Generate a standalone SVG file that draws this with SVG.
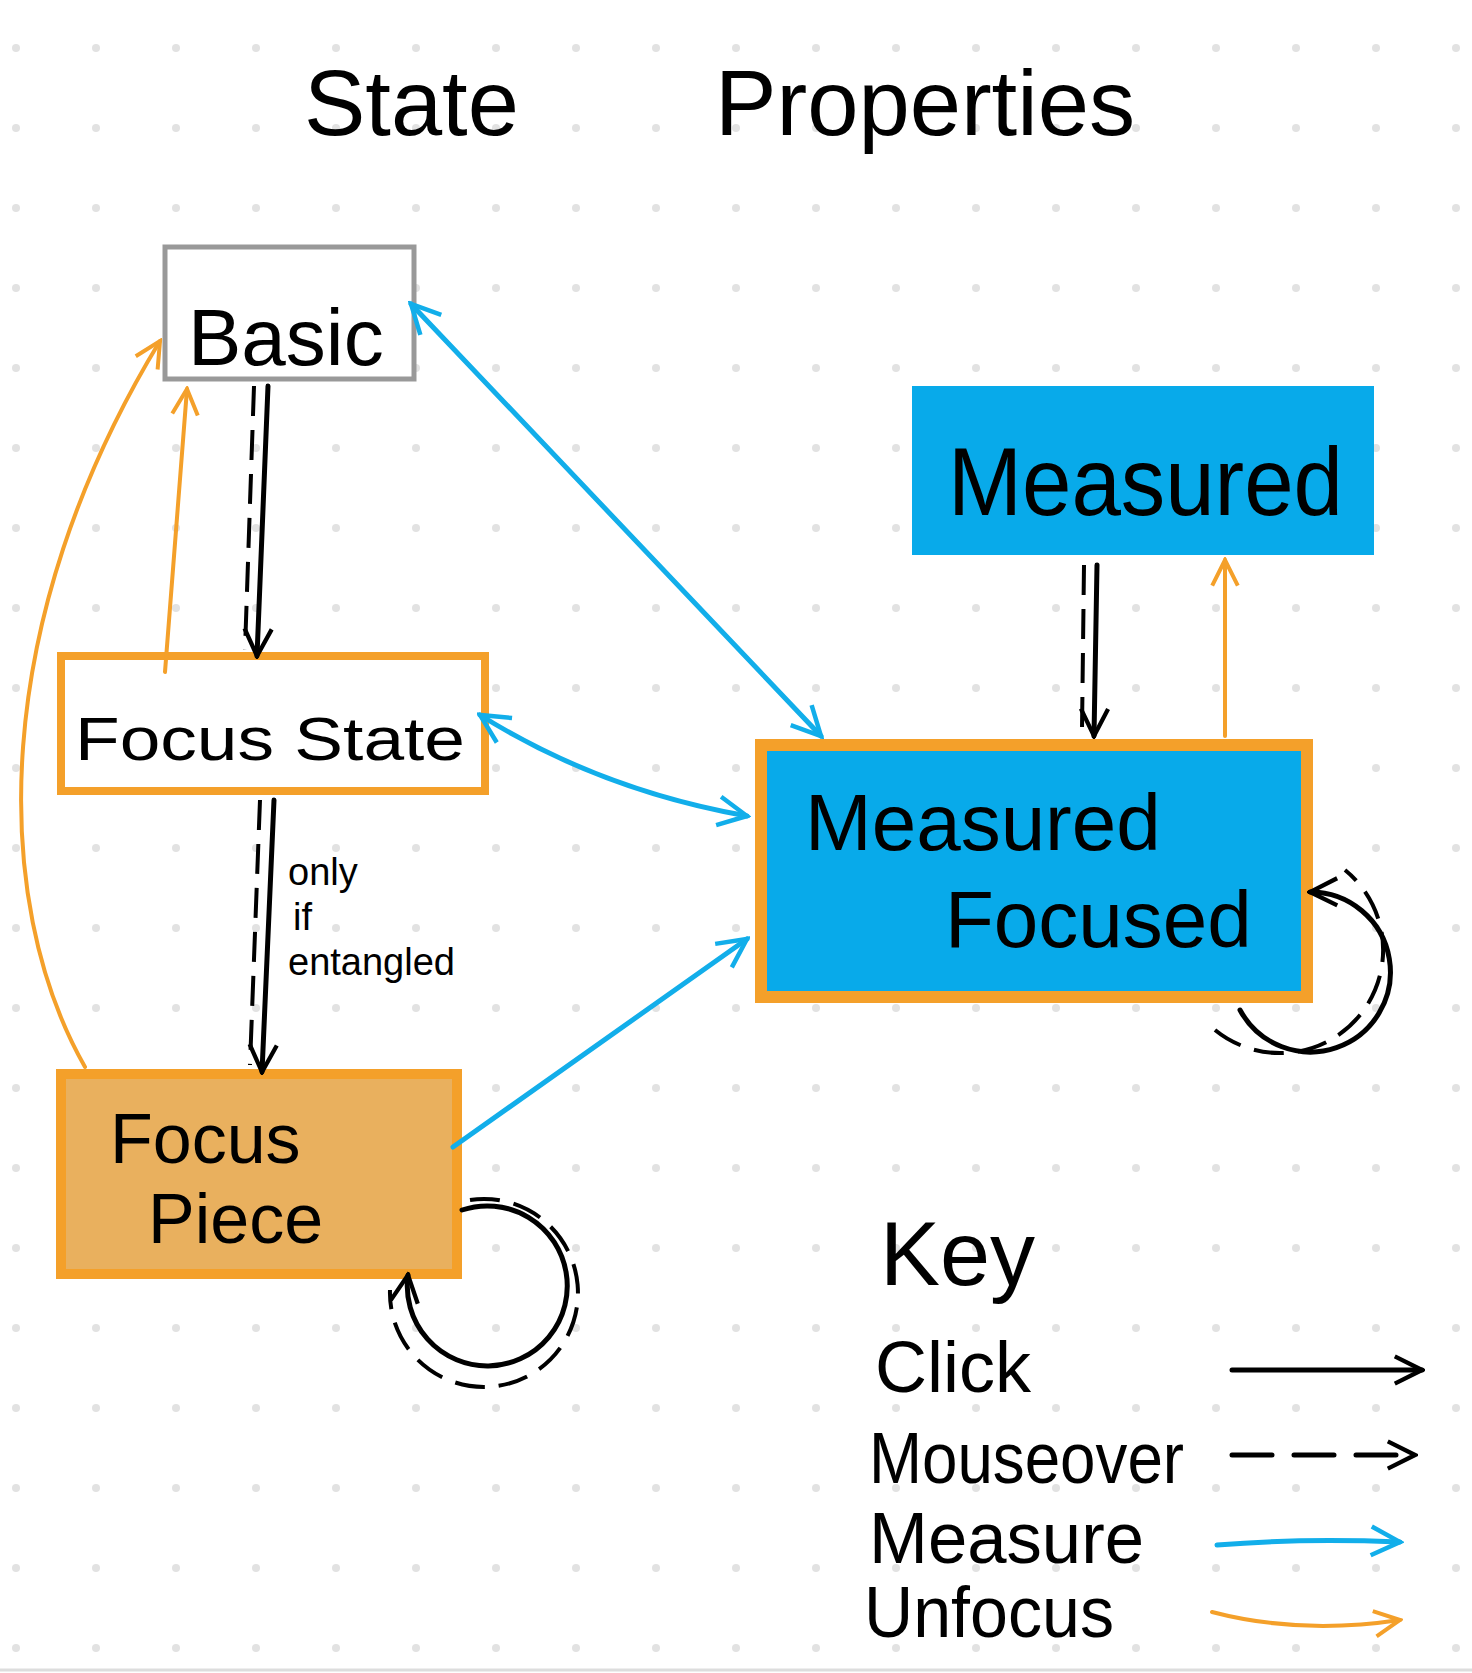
<svg xmlns="http://www.w3.org/2000/svg" width="1472" height="1673" viewBox="0 0 1472 1673">
<defs>
<pattern id="dots" x="0" y="0" width="80" height="80" patternUnits="userSpaceOnUse"><circle cx="16" cy="48" r="4" fill="#e2e2e2"/></pattern>
<marker id="ak" viewBox="0 0 20 20" refX="18" refY="10" markerWidth="34" markerHeight="34" markerUnits="userSpaceOnUse" orient="auto-start-reverse"><path d="M2,2 L18,10 L2,18" fill="none" stroke="#000" stroke-width="2.5"/></marker>
<marker id="ab" viewBox="0 0 20 20" refX="18" refY="10" markerWidth="36" markerHeight="36" markerUnits="userSpaceOnUse" orient="auto-start-reverse"><path d="M2,2 L18,10 L2,18" fill="none" stroke="#12aeea" stroke-width="2.5"/></marker>
<marker id="ao" viewBox="0 0 20 20" refX="18" refY="10" markerWidth="32" markerHeight="32" markerUnits="userSpaceOnUse" orient="auto-start-reverse"><path d="M2,2 L18,10 L2,18" fill="none" stroke="#f4a02a" stroke-width="2.5"/></marker>
</defs>
<style>
text{font-family:"Liberation Sans",Arial,sans-serif;fill:#000}
.k{fill:none;stroke:#000;stroke-width:5;stroke-linecap:round}
.kd{fill:none;stroke:#000;stroke-width:4;stroke-dasharray:30 14}
.b{fill:none;stroke:#12aeea;stroke-width:5;stroke-linecap:round}
.o{fill:none;stroke:#f4a02a;stroke-width:4;stroke-linecap:round}
</style>
<rect width="1472" height="1673" fill="#fff"/>
<rect width="1472" height="1668" fill="url(#dots)"/>
<line x1="0" y1="1670" x2="1472" y2="1670" stroke="#ddd" stroke-width="3"/>
<text x="304" y="135" font-size="92">State</text>
<text x="715" y="135" font-size="92" textLength="420" lengthAdjust="spacingAndGlyphs">Properties</text>

<g id="basic"><rect x="165" y="247" width="249" height="132" fill="#fff" stroke="#999" stroke-width="5"/><text x="188" y="365" font-size="80">Basic</text></g>
<g id="measured"><rect x="912" y="386" width="462" height="169" fill="#08aaea"/><text x="948" y="515" font-size="96" textLength="395" lengthAdjust="spacingAndGlyphs">Measured</text></g>
<g id="focus-state"><rect x="61" y="656" width="424" height="135" fill="#fff" stroke="#f4a02a" stroke-width="8"/><text x="75" y="760" font-size="62" textLength="390" lengthAdjust="spacingAndGlyphs">Focus State</text></g>
<g id="measured-focused"><rect x="761" y="745" width="546" height="252" fill="#08aaea" stroke="#f4a02a" stroke-width="12"/><text x="805" y="850" font-size="80">Measured</text><text x="945" y="947" font-size="80">Focused</text></g>
<g id="focus-piece"><rect x="61" y="1074" width="396" height="200" fill="#e9b05e" stroke="#f4a02a" stroke-width="10"/><text x="110" y="1163" font-size="70">Focus</text><text x="148" y="1243" font-size="70">Piece</text></g>

<g id="connectors">
<line class="k" x1="268" y1="386" x2="257" y2="656" marker-end="url(#ak)"/>
<line class="kd" x1="254" y1="386" x2="245" y2="650"/>
<line class="o" x1="165" y1="672" x2="187" y2="389" marker-end="url(#ao)"/>
<path class="o" d="M85,1067 C-10,900 -10,620 160,341" marker-end="url(#ao)"/>
<line class="b" x1="411" y1="304" x2="821" y2="736" marker-start="url(#ab)" marker-end="url(#ab)"/>
<path class="b" d="M480,715 Q600,790 747,816" marker-start="url(#ab)" marker-end="url(#ab)"/>
<line class="b" x1="453" y1="1147" x2="747" y2="939" marker-end="url(#ab)"/>
<line class="k" x1="274" y1="800" x2="262" y2="1072" marker-end="url(#ak)"/>
<line class="kd" x1="260" y1="800" x2="250" y2="1065"/>
<line class="k" x1="1097" y1="565" x2="1094" y2="736" marker-end="url(#ak)"/>
<line class="kd" x1="1084" y1="565" x2="1082" y2="730"/>
<line class="o" x1="1225" y1="736" x2="1225" y2="560" marker-end="url(#ao)"/>
<path class="k" d="M1240,1010 A80,80 0 1 0 1310,892" marker-end="url(#ak)"/>
<path class="kd" d="M1215,1030 A96,96 0 1 0 1345,870"/>
<path class="k" d="M462,1210 A80,80 0 1 1 408,1275" marker-end="url(#ak)"/>
<path class="kd" d="M470,1200 A94,94 0 1 1 390,1290"/>
<line class="k" x1="1232" y1="1370" x2="1422" y2="1370" marker-end="url(#ak)"/>
<line class="k" x1="1232" y1="1455" x2="1415" y2="1455" stroke-dasharray="40 22" marker-end="url(#ak)"/>
<path class="b" d="M1217,1545 Q1300,1538 1400,1542" marker-end="url(#ab)"/>
<path class="o" d="M1212,1612 Q1300,1635 1400,1620" marker-end="url(#ao)"/>
</g>

<g id="label"><text x="288" y="885" font-size="38">only</text><text x="293" y="930" font-size="38">if</text><text x="288" y="975" font-size="38">entangled</text></g>

<g id="key">
<text x="880" y="1285" font-size="90">Key</text>
<text x="875" y="1392" font-size="72">Click</text>
<text x="869" y="1483" font-size="72" textLength="315" lengthAdjust="spacingAndGlyphs">Mouseover</text>
<text x="869" y="1563" font-size="72" textLength="275" lengthAdjust="spacingAndGlyphs">Measure</text>
<text x="864" y="1637" font-size="72" textLength="250" lengthAdjust="spacingAndGlyphs">Unfocus</text>
</g>
</svg>
